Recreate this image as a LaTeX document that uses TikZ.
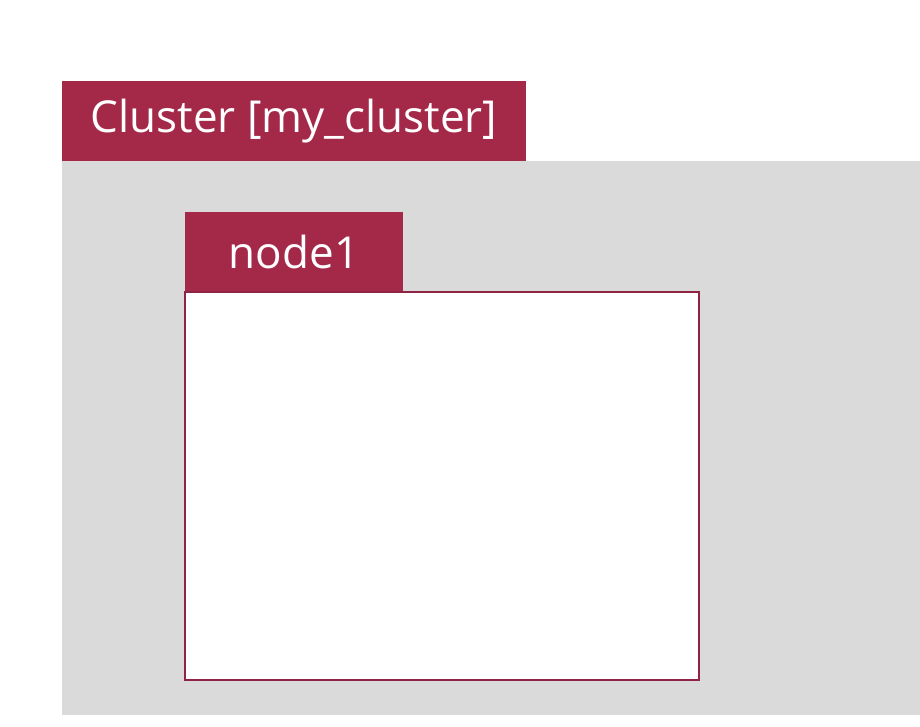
\documentclass[tikz,border=0pt]{standalone}
\usepackage{fontspec}
\setmainfont{Open Sans}
\usetikzlibrary{positioning}
\definecolor{tabred}{HTML}{A42948}
\definecolor{panelgray}{HTML}{D9DAD9}
\definecolor{edgered}{HTML}{8E2343}

\begin{document}
\begin{tikzpicture}[x=1pt,y=-1pt,inner sep=0pt,outer sep=0pt]
  \tikzstyle{tab}=[fill=tabred,draw=none,text=white,font=\fontsize{44}{48}\selectfont]
  \tikzstyle{panel}=[fill=panelgray,draw=none]
  \tikzstyle{box}=[fill=white,draw=edgered,line width=1.5pt]

  \useasboundingbox (0,0) rectangle (920,726);

  \node[tab,anchor=north west,minimum width=464pt,minimum height=80pt] (ctab) at (62,81) {Cluster [my\_cluster]};
  \node[panel,below=0pt of ctab.south west,anchor=north west,minimum width=858pt,minimum height=554pt] (cbody) {};
  \node[tab,anchor=north west,minimum width=218pt,minimum height=80pt] (ntab) at (185,212) {node1};
  \node[box,below=0pt of ntab.south west,anchor=north west,minimum width=514pt,minimum height=388pt] (nbody) {};
\end{tikzpicture}
\end{document}
